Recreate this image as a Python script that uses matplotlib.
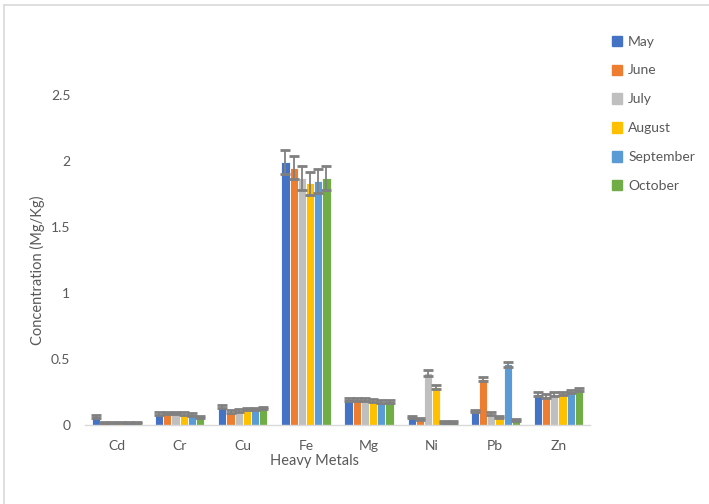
import numpy as np
import matplotlib
matplotlib.use("Agg")
import matplotlib.pyplot as plt
from matplotlib.lines import Line2D

metals = ["Cd", "Cr", "Cu", "Fe", "Mg", "Ni", "Pb", "Zn"]
months = ["May", "June", "July", "August", "September", "October"]
colors = ["#4472C4", "#ED7D31", "#BFBFBF", "#FFC000", "#5B9BD5", "#70AD47"]

may       = [0.065, 0.085, 0.140, 1.99, 0.195, 0.060, 0.105, 0.235]
june      = [0.020, 0.090, 0.100, 1.95, 0.195, 0.045, 0.345, 0.220]
july      = [0.020, 0.090, 0.110, 1.87, 0.195, 0.395, 0.085, 0.235]
august    = [0.018, 0.085, 0.120, 1.83, 0.185, 0.290, 0.060, 0.240]
september = [0.018, 0.080, 0.120, 1.85, 0.175, 0.025, 0.460, 0.255]
october   = [0.018, 0.060, 0.130, 1.87, 0.180, 0.025, 0.040, 0.270]

err_may       = [0.010, 0.010, 0.012, 0.090, 0.012, 0.008, 0.010, 0.012]
err_june      = [0.006, 0.010, 0.010, 0.090, 0.012, 0.008, 0.015, 0.012]
err_july      = [0.006, 0.010, 0.010, 0.090, 0.012, 0.020, 0.010, 0.012]
err_august    = [0.006, 0.010, 0.010, 0.090, 0.012, 0.015, 0.008, 0.012]
err_september = [0.006, 0.010, 0.010, 0.090, 0.012, 0.008, 0.020, 0.012]
err_october   = [0.006, 0.008, 0.010, 0.090, 0.012, 0.008, 0.008, 0.012]

series = [may, june, july, august, september, october]
errors = [err_may, err_june, err_july, err_august, err_september, err_october]

W, H = 709, 504
fig = plt.figure(figsize=(W / 100, H / 100), dpi=100)
plt.rcParams["font.family"] = ["Lato", "DejaVu Sans"]
text_color = "#595959"

# plot area in pixel coordinates
left, right, top, bottom = 85, 590, 95, 425
ax = fig.add_axes([left / W, 1 - bottom / H, (right - left) / W, (bottom - top) / H])

x = np.arange(len(metals))
n = len(series)
bw = 0.13
for i, (vals, errs) in enumerate(zip(series, errors)):
    pos = x + (i - (n - 1) / 2) * bw
    ax.bar(pos, vals, width=bw, color=colors[i], edgecolor="white", linewidth=0.6,
           label=months[i], zorder=2)
    ax.errorbar(pos, vals, yerr=errs, fmt="none", ecolor="#808080", elinewidth=1.3,
                capsize=3.5, capthick=2, zorder=3)

ax.set_xlim(-0.5, len(metals) - 0.5)
ax.set_ylim(0, 2.5)
ax.set_yticks([0, 0.5, 1, 1.5, 2, 2.5])
ax.set_yticklabels(["0", "0.5", "1", "1.5", "2", "2.5"])
ax.set_xticks(x)
ax.set_xticklabels(metals)
ax.tick_params(axis="both", length=0, labelsize=10, colors=text_color)
ax.tick_params(axis="y", pad=10.5)
ax.tick_params(axis="x", pad=11)
for s in ["top", "right", "left"]:
    ax.spines[s].set_visible(False)
ax.spines["bottom"].set_color("#D9D9D9")
ax.spines["bottom"].set_linewidth(1.0)

fig.text(37 / W, 1 - 270 / H, "Concentration (Mg/Kg)", rotation=90, ha="center",
         va="center", fontsize=10.5, color=text_color)
fig.text(315 / W, 1 - 461 / H, "Heavy Metals", ha="center", va="center",
         fontsize=10.5, color=text_color)

leg = fig.legend(handles=[plt.Rectangle((0, 0), 1, 1, color=c) for c in colors],
                 labels=months, loc="upper left", bbox_to_anchor=(599 / W, 1 - 23 / H),
                 frameon=False, fontsize=10, handlelength=0.75, handleheight=0.75,
                 handletextpad=0.45, labelspacing=1.22, labelcolor=text_color)

# chart border
fig.add_artist(Line2D([4 / W, 1], [1 - 5 / H, 1 - 5 / H], transform=fig.transFigure,
                      color="#D9D9D9", linewidth=1.2))
fig.add_artist(Line2D([4 / W, 4 / W], [0, 1 - 5 / H], transform=fig.transFigure,
                      color="#D9D9D9", linewidth=1.2))

fig.savefig("out.png", dpi=100, facecolor="white")
